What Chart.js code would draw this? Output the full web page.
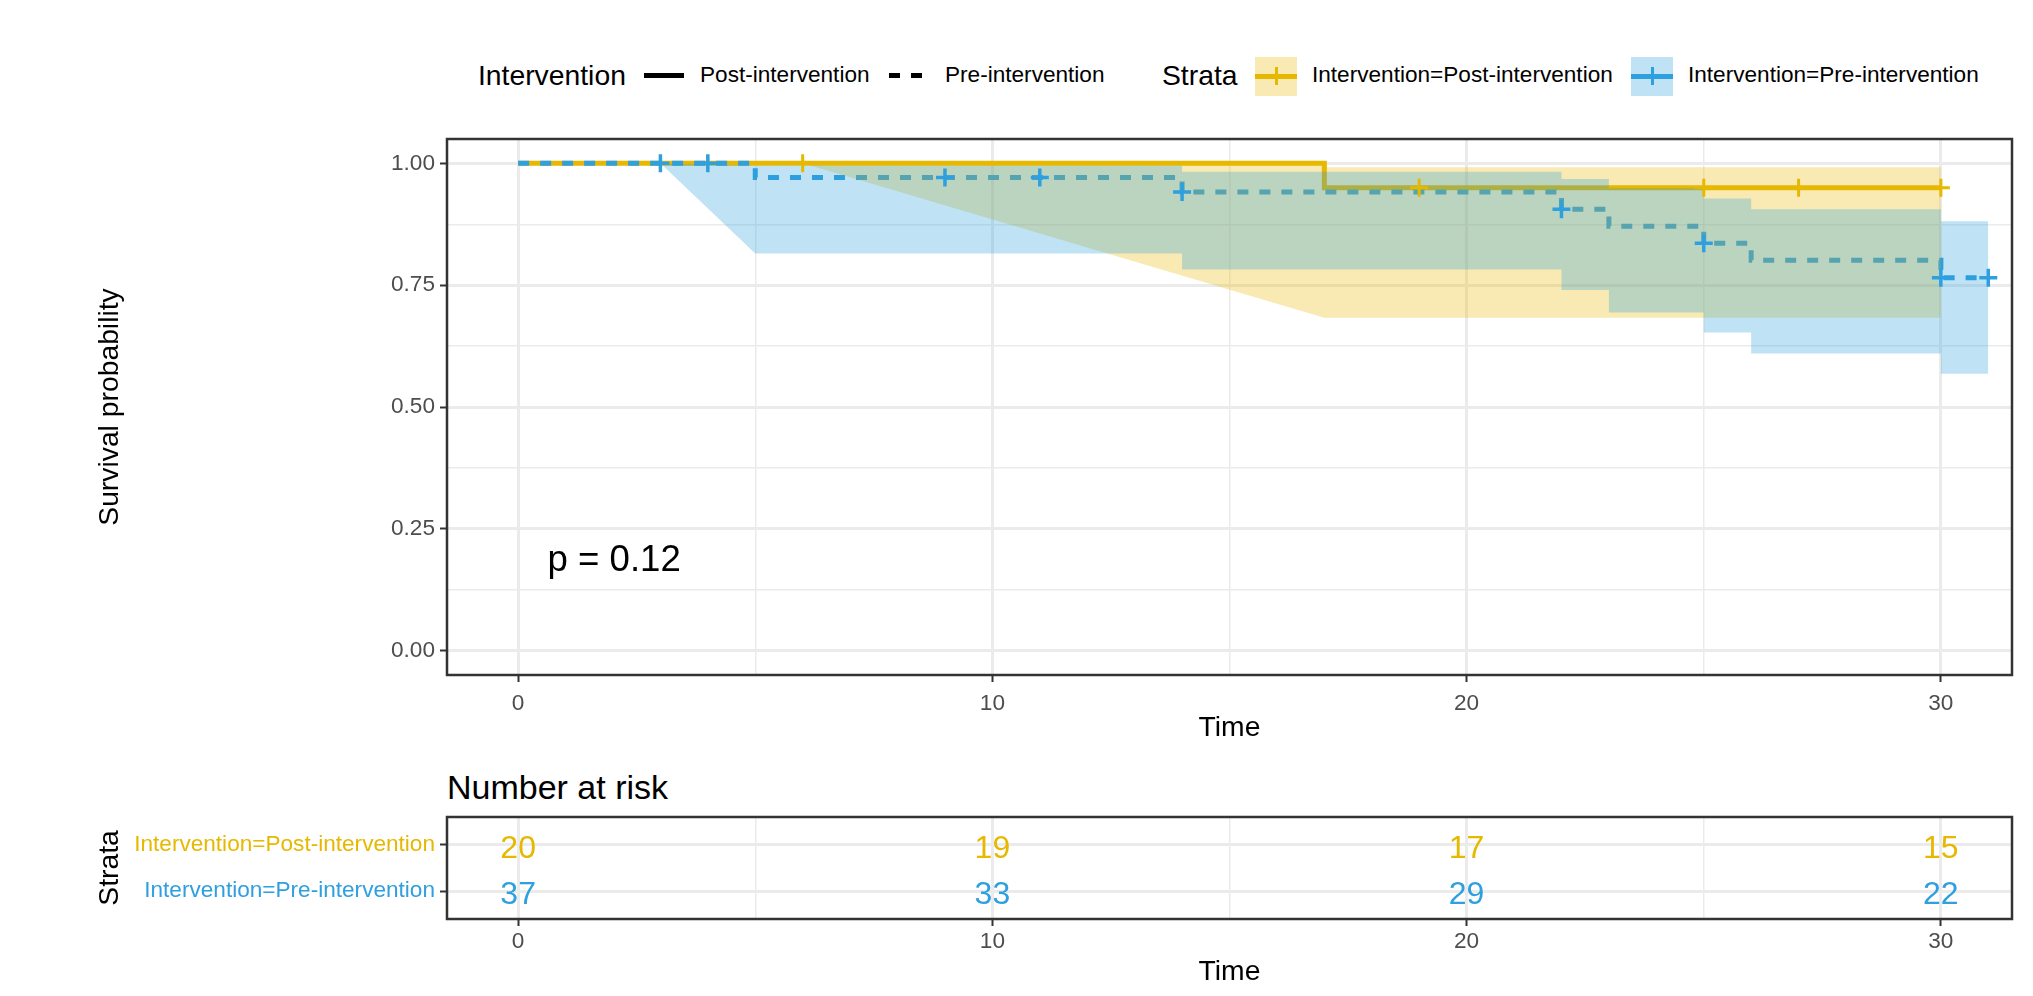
<!DOCTYPE html>
<html>
<head>
<meta charset="utf-8">
<title>Kaplan-Meier survival by intervention</title>
<script src="https://cdn.jsdelivr.net/npm/chart.js@4.4.1/dist/chart.umd.min.js"></script>
<style>
  html, body { margin: 0; padding: 0; background: #ffffff; width: 2033px; height: 996px; overflow: hidden;
    font-family: "Liberation Sans", Arial, Helvetica, sans-serif; }
  canvas { position: absolute; left: 0; }
  #main { top: 0; }
  #risk { top: 760px; }
  .txt { position: absolute; white-space: nowrap; line-height: 1; transform: translateY(-50%); color: #000; }
  .key { position: absolute; }
</style>
</head>
<body>
<div id="legend"></div>
<div class="txt" id="riskTitle" style="left:447px; top:787px; font-size:34px;">Number at risk</div>
<canvas id="main" width="2033" height="760"></canvas>
<canvas id="risk" width="2033" height="236"></canvas>
<script>
// ---- Kaplan-Meier estimates: step times and survival after each step ----
const postStepTime = [0, 17];
const postStepSurv = [1.000, 0.950];
const postEndTime = 30;

const preStepTime = [0, 5, 14, 22, 23, 25, 26, 30];
const preStepSurv = [1.000, 0.971, 0.941, 0.906, 0.871, 0.836, 0.801, 0.765];
const preEndTime = 31;

// ---- censoring times ----
const postCensorTime = [6, 19, 25, 27, 30];
const preCensorTime = [3, 4, 9, 11, 14, 22, 25, 30, 31];

// ---- 95% confidence band outlines ----
const postUpperTime = [0, 17, 17, 30];
const postUpperSurv = [1.000, 1.000, 0.992, 0.992];
const postLowerTime = [0, 6, 17, 30];
const postLowerSurv = [1.000, 1.000, 0.683, 0.683];

const preUpperTime = [0, 3, 5, 14, 14, 22, 22, 23, 23, 25, 25, 26, 26, 30, 30, 31];
const preUpperSurv = [1.000, 1.000, 0.995, 0.995, 0.983, 0.983, 0.968, 0.968, 0.949, 0.949, 0.928, 0.928, 0.906, 0.906, 0.881, 0.881];
const preLowerTime = [0, 3, 5, 14, 14, 22, 22, 23, 23, 25, 25, 26, 26, 30, 30, 31];
const preLowerSurv = [1.000, 1.000, 0.815, 0.815, 0.782, 0.782, 0.740, 0.740, 0.694, 0.694, 0.653, 0.653, 0.610, 0.610, 0.568, 0.568];

// ---- number at risk ----
const riskTime = [0, 10, 20, 30];
const postAtRisk = [20, 19, 17, 15];
const preAtRisk = [37, 33, 29, 22];

// ---- labels and ticks ----
const groupNames = ['Post-intervention', 'Pre-intervention'];
const strataLabels = ['Intervention=Post-intervention', 'Intervention=Pre-intervention'];
const timeTicks = [0, 5, 10, 15, 20, 25, 30];
const timeTickLabels = ['0', '', '10', '', '20', '', '30'];
const survTicks = [0, 0.125, 0.25, 0.375, 0.5, 0.625, 0.75, 0.875, 1];
const survTickLabels = ['0.00', '', '0.25', '', '0.50', '', '0.75', '', '1.00'];
const pValueText = 'p = 0.12';
const pValueAt = { time: 0.62, surv: 0.185 };

// ---- styling ----
const FONT = "'Liberation Sans', Arial, Helvetica, sans-serif";
const ORANGE = '#E7B800';
const BLUE = '#2E9FDF';
const ORANGE_BAND = 'rgba(231,184,0,0.3)';
const BLUE_BAND = 'rgba(46,159,223,0.3)';
const GRID = '#EBEBEB';
const INK = '#333333';
const TICK_TEXT = '#4D4D4D';

Chart.defaults.font.family = FONT;

function stepPoints(times, surv, end) {
  const pts = [];
  for (let i = 0; i < times.length; i++) {
    if (i > 0) pts.push({ x: times[i], y: surv[i - 1] });
    pts.push({ x: times[i], y: surv[i] });
  }
  pts.push({ x: end, y: surv[surv.length - 1] });
  return pts;
}
function survAt(times, surv, t) {
  let s = surv[0];
  for (let i = 0; i < times.length; i++) if (times[i] <= t) s = surv[i];
  return s;
}
function outline(times, vals) { return times.map((t, i) => ({ x: t, y: vals[i] })); }

const isMajorTime = v => Math.abs(v % 10) < 1e-9;
const isMajorSurv = v => Math.abs(v * 4 - Math.round(v * 4)) < 1e-9;

function timeScale(tickPadding) {
  return {
    type: 'linear', min: -1.5, max: 31.5,
    afterBuildTicks: s => { s.ticks = timeTicks.map(v => ({ value: v })); },
    ticks: {
      autoSkip: false, maxRotation: 0, color: TICK_TEXT, font: { size: 22.6 }, padding: tickPadding,
      callback: (v, i) => timeTickLabels[i]
    },
    grid: {
      color: GRID,
      lineWidth: c => (c.tick && isMajorTime(c.tick.value)) ? 3 : 1.5,
      tickLength: 7, tickWidth: 2,
      tickColor: c => (c.tick && isMajorTime(c.tick.value)) ? INK : 'rgba(0,0,0,0)'
    },
    border: { display: false },
    title: { display: true, text: 'Time', color: '#000', font: { size: 28.3 }, padding: { top: 0, bottom: 0 } },
    afterFit: s => { s.height = 70; }
  };
}

// frame around the plotting panel, drawn above the data
const panelFrame = {
  id: 'panelFrame',
  afterDatasetsDraw(chart) {
    const a = chart.chartArea, ctx = chart.ctx;
    ctx.save();
    ctx.strokeStyle = INK;
    ctx.lineWidth = 2.5;
    ctx.strokeRect(a.left, a.top, a.right - a.left, a.bottom - a.top);
    ctx.restore();
  }
};

// log-rank p-value annotation
const pValueLabel = {
  id: 'pValueLabel',
  afterDatasetsDraw(chart) {
    const ctx = chart.ctx;
    ctx.save();
    ctx.font = '36.6px ' + FONT;
    ctx.fillStyle = '#000';
    ctx.textAlign = 'left';
    ctx.textBaseline = 'middle';
    ctx.fillText(pValueText, chart.scales.x.getPixelForValue(pValueAt.time), chart.scales.y.getPixelForValue(pValueAt.surv));
    ctx.restore();
  }
};

const postCensorPts = postCensorTime.map(t => ({ x: t, y: survAt(postStepTime, postStepSurv, t) }));
const preCensorPts = preCensorTime.map(t => ({ x: t, y: survAt(preStepTime, preStepSurv, t) }));

new Chart(document.getElementById('main'), {
  type: 'line',
  data: {
    datasets: [
      { label: groupNames[0], data: stepPoints(postStepTime, postStepSurv, postEndTime),
        borderColor: ORANGE, borderWidth: 5, pointRadius: 0, fill: false, order: 50 },
      { label: groupNames[1], data: stepPoints(preStepTime, preStepSurv, preEndTime),
        borderColor: BLUE, borderWidth: 5, borderDash: [11, 11], pointRadius: 0, fill: false, order: 40 },
      { label: 'post upper', data: outline(postUpperTime, postUpperSurv),
        borderColor: 'rgba(0,0,0,0)', borderWidth: 0, pointRadius: 0, backgroundColor: ORANGE_BAND, fill: '+1', order: 30 },
      { label: 'post lower', data: outline(postLowerTime, postLowerSurv),
        borderColor: 'rgba(0,0,0,0)', borderWidth: 0, pointRadius: 0, fill: false, order: 35 },
      { label: 'pre upper', data: outline(preUpperTime, preUpperSurv),
        borderColor: 'rgba(0,0,0,0)', borderWidth: 0, pointRadius: 0, backgroundColor: BLUE_BAND, fill: '+1', order: 20 },
      { label: 'pre lower', data: outline(preLowerTime, preLowerSurv),
        borderColor: 'rgba(0,0,0,0)', borderWidth: 0, pointRadius: 0, fill: false, order: 25 },
      { label: 'post censored', data: postCensorPts, showLine: false,
        pointStyle: 'cross', pointRadius: 9, pointBorderWidth: 3, pointBorderColor: ORANGE, borderColor: ORANGE, order: 10 },
      { label: 'pre censored', data: preCensorPts, showLine: false,
        pointStyle: 'cross', pointRadius: 9, pointBorderWidth: 3.5, pointBorderColor: BLUE, borderColor: BLUE, order: 5 }
    ]
  },
  options: {
    responsive: false, animation: false, devicePixelRatio: 1, events: [],
    layout: { padding: { left: 0, right: 21, top: 139, bottom: 15 } },
    plugins: { legend: { display: false }, tooltip: { enabled: false } },
    scales: {
      x: timeScale(8),
      y: {
        type: 'linear', min: -0.05, max: 1.05,
        afterBuildTicks: s => { s.ticks = survTicks.map(v => ({ value: v })); },
        ticks: { autoSkip: false, color: TICK_TEXT, font: { size: 22.6 }, padding: 5,
          callback: (v, i) => survTickLabels[i] },
        grid: {
          color: GRID,
          lineWidth: c => (c.tick && isMajorSurv(c.tick.value)) ? 3 : 1.5,
          tickLength: 7, tickWidth: 2,
          tickColor: c => (c.tick && isMajorSurv(c.tick.value)) ? INK : 'rgba(0,0,0,0)'
        },
        border: { display: false },
        title: { display: true, text: 'Survival probability', color: '#000', font: { size: 28.3 }, padding: { top: 93, bottom: 0 } },
        afterFit: s => { s.width = 447; }
      }
    }
  },
  plugins: [panelFrame, pValueLabel]
});

// ---- number-at-risk table ----
const riskCounts = [postAtRisk, preAtRisk];
const riskColors = [ORANGE, BLUE];

const riskNumbers = {
  id: 'riskNumbers',
  afterDatasetsDraw(chart) {
    const ctx = chart.ctx;
    ctx.save();
    ctx.font = '32px ' + FONT;
    ctx.textAlign = 'center';
    ctx.textBaseline = 'middle';
    chart.data.datasets.forEach((ds, di) => {
      const meta = chart.getDatasetMeta(di);
      ctx.fillStyle = riskColors[di];
      meta.data.forEach((pt, i) => ctx.fillText(String(ds.data[i].n), pt.x, pt.y + 4));
    });
    ctx.restore();
  }
};

new Chart(document.getElementById('risk'), {
  type: 'scatter',
  data: {
    datasets: riskCounts.map((counts, row) => ({
      label: strataLabels[row],
      data: riskTime.map((t, i) => ({ x: t, y: row, n: counts[i] })),
      pointRadius: 0, showLine: false
    }))
  },
  options: {
    responsive: false, animation: false, devicePixelRatio: 1, events: [],
    layout: { padding: { left: 0, right: 21, top: 57, bottom: 7 } },
    plugins: { legend: { display: false }, tooltip: { enabled: false } },
    scales: {
      x: timeScale(2),
      y: {
        type: 'linear', reverse: true, min: -0.6, max: 1.6,
        afterBuildTicks: s => { s.ticks = strataLabels.map((_, i) => ({ value: i })); },
        ticks: { autoSkip: false, font: { size: 22.6 }, padding: 5,
          color: c => riskColors[c.index],
          callback: (v, i) => strataLabels[i] },
        grid: { color: GRID, lineWidth: 3, tickLength: 7, tickWidth: 2, tickColor: INK },
        border: { display: false },
        title: { display: true, text: 'Strata', color: '#000', font: { size: 28.3 }, padding: { top: 93, bottom: 0 } },
        afterFit: s => { s.width = 447; }
      }
    }
  },
  plugins: [panelFrame, riskNumbers]
});

// ---- legend (line type by intervention, colour band by strata) ----
(function buildLegend() {
  const root = document.getElementById('legend');
  const cy = 75;
  function text(str, left, size) {
    const d = document.createElement('div');
    d.className = 'txt';
    d.textContent = str;
    d.style.left = left + 'px';
    d.style.top = cy + 'px';
    d.style.fontSize = size + 'px';
    root.appendChild(d);
  }
  function bar(left, top, w, h, color) {
    const d = document.createElement('div');
    d.className = 'key';
    Object.assign(d.style, { left: left + 'px', top: top + 'px', width: w + 'px', height: h + 'px', background: color });
    root.appendChild(d);
  }
  text('Intervention', 478, 28.3);
  bar(644, cy - 2, 40, 5, '#000');
  text(groupNames[0], 700, 22.6);
  bar(889, cy - 2, 11, 5, '#000');
  bar(911, cy - 2, 11, 5, '#000');
  text(groupNames[1], 945, 22.6);
  text('Strata', 1162, 28.3);
  const boxes = [{ left: 1255, fill: ORANGE_BAND, color: ORANGE, label: 1312 }, { left: 1631, fill: BLUE_BAND, color: BLUE, label: 1688 }];
  boxes.forEach((b, i) => {
    bar(b.left, 57, 42, 39, b.fill);
    bar(b.left, cy - 1, 42, 5, b.color);
    bar(b.left + 19.5, cy - 8, 3, 18, b.color);
    text(strataLabels[i], b.label, 22.6);
  });
})();
</script>
</body>
</html>
